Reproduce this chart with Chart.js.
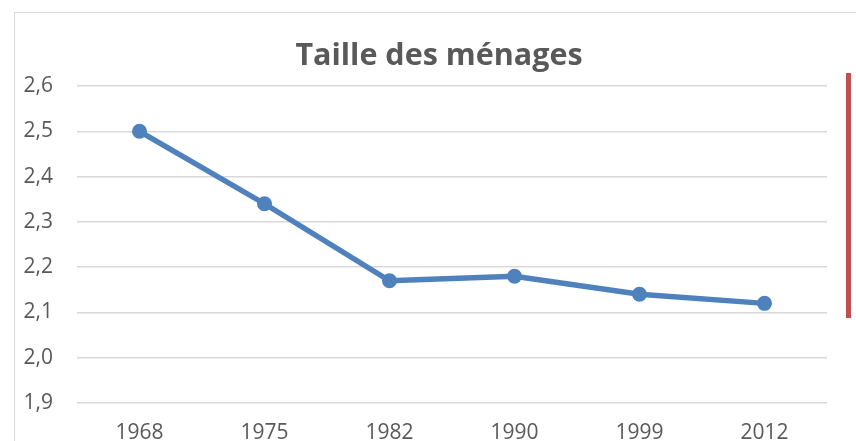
<!DOCTYPE html>
<html>
<head>
<meta charset="utf-8">
<script src="https://cdn.jsdelivr.net/npm/chart.js@4"></script>
<style>
  html, body { margin: 0; padding: 0; background: #fff; }
  #wrap { position: relative; width: 856px; height: 441px; overflow: hidden; }
  #frame { position: absolute; left: 14px; top: 12px; width: 900px; height: 500px; border: 1px solid #d9d9d9; box-sizing: border-box; }
  #redbar { position: absolute; left: 846px; top: 73px; width: 5px; height: 245px; background: #c0504d; }
  canvas { position: absolute; left: 0; top: 0; }
</style>
</head>
<body>
<div id="wrap">
  <div id="frame"></div>
  <canvas id="c" width="856" height="441"></canvas>
  <div id="redbar"></div>
</div>
<script>
const titleText = "Taille des ménages";
const categories = ["1968", "1975", "1982", "1990", "1999", "2012"];
const householdSize = [2.50, 2.34, 2.17, 2.18, 2.14, 2.12];
const yMin = 1.9, yMax = 2.6, yStep = 0.1;

const fontFamily = "'Open Sans', Lato, sans-serif";
const textColor = "#595959";

// Centre the title over the whole chart frame (which extends past the canvas on the right)
const frameSpan = { left: 14, right: 864 };
const titleSpanPlugin = {
  id: "titleSpan",
  afterLayout(chart) {
    if (chart.titleBlock) {
      chart.titleBlock.left = frameSpan.left;
      chart.titleBlock.right = frameSpan.right;
      chart.titleBlock.width = frameSpan.right - frameSpan.left;
    }
  }
};

new Chart(document.getElementById("c"), {
  type: "line",
  data: {
    labels: categories,
    datasets: [{
      label: titleText,
      data: householdSize,
      borderColor: "#4f81bd",
      backgroundColor: "#4f81bd",
      borderWidth: 5.5,
      pointRadius: 7.5,
      pointHoverRadius: 7.5,
      pointBorderWidth: 0,
      tension: 0,
      fill: false
    }]
  },
  plugins: [titleSpanPlugin],
  options: {
    responsive: false,
    animation: false,
    events: [],
    layout: { padding: { left: 0, right: 29, top: 0, bottom: 0 } },
    plugins: {
      legend: { display: false },
      tooltip: { enabled: false },
      title: {
        display: true,
        text: titleText,
        color: textColor,
        font: { family: fontFamily, size: 30.5, weight: "bold", lineHeight: 1.2 },
        padding: { top: 38.2, bottom: 11.2 }
      }
    },
    scales: {
      x: {
        offset: true,
        grid: { display: false, drawTicks: false },
        border: { display: false },
        ticks: { color: textColor, font: { family: fontFamily, size: 21 }, padding: 17.4, maxRotation: 0 },
        afterFit(scale) { scale.height = 38; }
      },
      y: {
        min: yMin,
        max: yMax,
        grid: { color: "#d9d9d9", lineWidth: 1.5, drawTicks: false },
        border: { display: false },
        ticks: {
          stepSize: yStep,
          color: textColor,
          font: { family: fontFamily, size: 21 },
          padding: 24,
          callback: v => v.toFixed(1).replace(".", ",")
        },
        afterFit(scale) { scale.width = 77; }
      }
    }
  }
});
</script>
</body>
</html>
